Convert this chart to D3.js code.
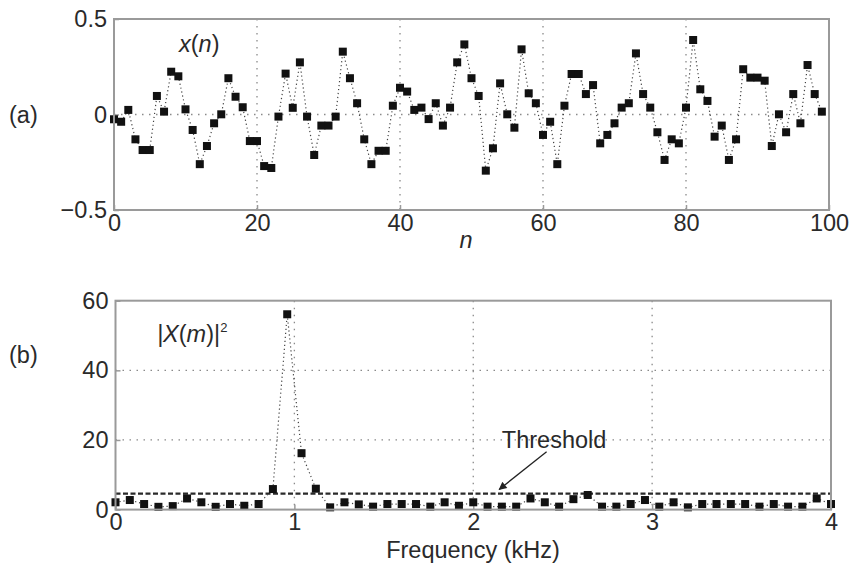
<!DOCTYPE html>
<html>
<head>
<meta charset="utf-8">
<script src="https://cdn.jsdelivr.net/npm/d3@7"></script>
<style>
  html, body { margin: 0; padding: 0; background: #fff; }
  svg { display: block; }
  text { font-family: "Liberation Sans", Arial, Helvetica, sans-serif; fill: #2a2a2a; }
</style>
</head>
<body>
<svg id="chart" width="855" height="571"></svg>
<script>
// ---------- data ----------
// (a) time-domain samples x(n), n = 0..99
const xn = [
  -0.025, -0.038, 0.024, -0.13, -0.186, -0.186, 0.097, 0.015, 0.224, 0.20,
  0.027, -0.081, -0.26, -0.165, -0.046, 0.001, 0.19, 0.093, 0.038, -0.139,
  -0.139, -0.27, -0.28, -0.011, 0.214, 0.035, 0.273, -0.011, -0.212, -0.058,
  -0.058, -0.011, 0.329, 0.19, 0.059, -0.13, -0.26, -0.19, -0.19, 0.046,
  0.14, 0.12, 0.024, 0.036, -0.024, 0.059, -0.058, 0.036, 0.273, 0.367,
  0.19, 0.097, -0.294, -0.177, 0.163, 0.001, -0.069, 0.341, 0.111, 0.059,
  -0.107, -0.038, -0.26, 0.046, 0.212, 0.212, 0.107, 0.154, -0.151, -0.107,
  -0.046, 0.036, 0.059, 0.32, 0.107, 0.036, -0.093, -0.238, -0.13, -0.151,
  0.036, 0.39, 0.132, 0.071, -0.116, -0.058, -0.238, -0.13, 0.237, 0.193,
  0.193, 0.177, -0.165, 0.001, -0.093, 0.107, -0.046, 0.259, 0.107, 0.015
];
// (b) power spectrum |X(m)|^2, m = 0..50 (bin spacing 0.08 kHz)
const binSpacingKHz = 0.08;
const Xm2 = [
  2.1, 2.75, 1.6, 0.8, 1.0, 3.2, 2.1, 0.8, 1.6, 1.1,
  1.6, 5.9, 56.1, 16.2, 6.0, 0.65, 2.1, 1.5, 0.85, 1.6,
  1.6, 1.6, 0.85, 2.1, 1.1, 2.1, 0.85, 0.85, 0.85, 3.2,
  2.1, 0.85, 3.0, 4.2, 0.85, 0.85, 1.6, 2.75, 0.85, 2.1,
  0.65, 1.6, 1.6, 1.6, 1.6, 0.85, 1.6, 0.85, 0.85, 3.2,
  1.6
];
const threshold = 4.6;

const xTicksA = [0, 20, 40, 60, 80, 100];
const yTicksA = [-0.5, 0, 0.5];
const yTickLabelsA = ["\u22120.5", "0", "0.5"];
const xTicksB = [0, 1, 2, 3, 4];
const yTicksB = [0, 20, 40, 60];

// ---------- drawing ----------
const svg = d3.select("#chart");
const axisColor = "#9a9a9a";
const gridColor = "#8a8a8a";
const FS = 23.5;

const xA = d3.scaleLinear().domain([0, 100]).range([114, 829]);
const yA = d3.scaleLinear().domain([-0.5, 0.5]).range([210, 19]);
const xB = d3.scaleLinear().domain([0, 4]).range([115.5, 831]);
const yB = d3.scaleLinear().domain([0, 60]).range([509.6, 300.7]);

function frame(x, y) {
  const [x0, x1] = x.range(), [y0, y1] = y.range();
  svg.append("rect")
    .attr("x", x0).attr("y", y1)
    .attr("width", x1 - x0).attr("height", y0 - y1)
    .attr("fill", "none").attr("stroke", axisColor).attr("stroke-width", 2);
}

function gridV(x, y, vals) {
  const [y0, y1] = y.range();
  svg.append("g").selectAll("line").data(vals).join("line")
    .attr("x1", d => x(d)).attr("x2", d => x(d))
    .attr("y1", y1).attr("y2", y0)
    .attr("stroke", gridColor).attr("stroke-width", 1.3)
    .attr("stroke-dasharray", "1.5,5.5");
}
function gridH(x, y, vals) {
  const [x0, x1] = x.range();
  svg.append("g").selectAll("line").data(vals).join("line")
    .attr("x1", x0).attr("x2", x1)
    .attr("y1", d => y(d)).attr("y2", d => y(d))
    .attr("stroke", gridColor).attr("stroke-width", 1.3)
    .attr("stroke-dasharray", "1.5,5.5");
}

function styleAxis(g) {
  g.select(".domain").remove();
  g.selectAll(".tick line").attr("stroke", axisColor).attr("stroke-width", 1.5);
  g.selectAll(".tick text").attr("font-size", FS).attr("fill", "#2a2a2a")
    .style("font-family", '"Liberation Sans", Arial, sans-serif');
}

// ---- (a) ----
gridV(xA, yA, [20, 40, 60, 80]);
gridH(xA, yA, [0]);

const axA_x = d3.axisBottom(xA).tickValues(xTicksA).tickSize(-5).tickPadding(4);
const axA_y = d3.axisLeft(yA).tickValues(yTicksA).tickSize(-5).tickPadding(7)
  .tickFormat((d, i) => yTickLabelsA[i]);
svg.append("g").attr("transform", `translate(0,${yA.range()[0]})`).call(axA_x).call(styleAxis);
svg.append("g").attr("transform", `translate(${xA.range()[0]},0)`).call(axA_y).call(styleAxis);

const lineA = d3.line().x((d, i) => xA(i)).y(d => yA(d));
svg.append("path").datum(xn).attr("d", lineA)
  .attr("fill", "none").attr("stroke", "#444").attr("stroke-width", 1.2)
  .attr("stroke-dasharray", "1.2,2.8");
const ms = 8;
svg.append("g").selectAll("rect").data(xn).join("rect")
  .attr("x", (d, i) => xA(i) - ms / 2).attr("y", d => yA(d) - ms / 2)
  .attr("width", ms).attr("height", ms).attr("fill", "#111");
frame(xA, yA);

// ---- (b) ----
gridV(xB, yB, [1, 2, 3]);
gridH(xB, yB, [20, 40]);

const axB_x = d3.axisBottom(xB).tickValues(xTicksB).tickSize(-5).tickPadding(4).tickFormat(d3.format("d"));
const axB_y = d3.axisLeft(yB).tickValues(yTicksB).tickSize(-5).tickPadding(7);
svg.append("g").attr("transform", `translate(0,${yB.range()[0]})`).call(axB_x).call(styleAxis);
svg.append("g").attr("transform", `translate(${xB.range()[0]},0)`).call(axB_y).call(styleAxis);

// threshold dashed line
svg.append("line")
  .attr("x1", xB(0)).attr("x2", xB(4))
  .attr("y1", yB(threshold)).attr("y2", yB(threshold))
  .attr("stroke", "#2a2a2a").attr("stroke-width", 2.2).attr("stroke-dasharray", "5,2.5");

const lineB = d3.line().x((d, i) => xB(i * binSpacingKHz)).y(d => yB(d));
svg.append("path").datum(Xm2).attr("d", lineB)
  .attr("fill", "none").attr("stroke", "#444").attr("stroke-width", 1.2)
  .attr("stroke-dasharray", "1.2,2.8");
svg.append("g").selectAll("rect").data(Xm2).join("rect")
  .attr("x", (d, i) => xB(i * binSpacingKHz) - ms / 2).attr("y", d => yB(d) - ms / 2)
  .attr("width", ms).attr("height", ms).attr("fill", "#111");
frame(xB, yB);

// arrow annotation
const defs = svg.append("defs");
defs.append("marker").attr("id", "arr").attr("viewBox", "0 0 10 10")
  .attr("refX", 9).attr("refY", 5).attr("markerWidth", 10).attr("markerHeight", 8)
  .attr("markerUnits", "userSpaceOnUse").attr("orient", "auto")
  .append("path").attr("d", "M0,0 L10,5 L0,10 Z").attr("fill", "#222");
svg.append("line")
  .attr("x1", xB(2.41)).attr("y1", yB(16.6))
  .attr("x2", xB(2.145)).attr("y2", yB(5.8))
  .attr("stroke", "#222").attr("stroke-width", 1.3).attr("marker-end", "url(#arr)");
svg.append("text").attr("x", xB(2.16)).attr("y", yB(17.6))
  .attr("font-size", FS).text("Threshold");

// labels
svg.append("text").attr("x", 9).attr("y", 123).attr("font-size", FS).text("(a)");
svg.append("text").attr("x", 9).attr("y", 363).attr("font-size", FS).text("(b)");

const xnLab = svg.append("text").attr("x", 179).attr("y", 52).attr("font-size", FS);
xnLab.append("tspan").attr("font-style", "italic").text("x");
xnLab.append("tspan").text("(");
xnLab.append("tspan").attr("font-style", "italic").text("n");
xnLab.append("tspan").text(")");

svg.append("text").attr("x", 466).attr("y", 248).attr("font-size", FS)
  .attr("font-style", "italic").attr("text-anchor", "middle").text("n");

const XmLab = svg.append("text").attr("x", 157).attr("y", 342).attr("font-size", FS);
XmLab.append("tspan").attr("font-style", "italic").text("|X");
XmLab.append("tspan").text("(");
XmLab.append("tspan").attr("font-style", "italic").text("m");
XmLab.append("tspan").text(")|");
XmLab.append("tspan").attr("font-size", 13).attr("dy", -10).text("2");

svg.append("text").attr("x", 473).attr("y", 558).attr("font-size", FS)
  .attr("text-anchor", "middle").text("Frequency (kHz)");
</script>
</body>
</html>
